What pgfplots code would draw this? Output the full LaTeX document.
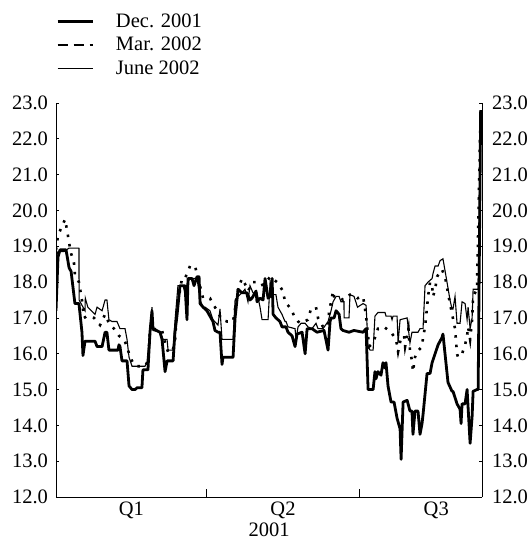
\documentclass[border=0pt]{standalone}
\usepackage{fontspec}
\setmainfont{Liberation Serif}
\usepackage{pgfplots}
\pgfplotsset{compat=1.18}
\begin{document}
\fontsize{20.5bp}{24bp}\selectfont
\begin{tikzpicture}
\useasboundingbox (0,0) rectangle (531bp,540bp);
\begin{axis}[
  at={(56bp,43bp)}, anchor=south west,
  scale only axis, width=426bp, height=394bp,
  xmin=0, xmax=254.3, ymin=12, ymax=23,
  axis x line*=bottom, axis y line*=left,
  axis line style={line width=0.8bp},
  tick align=inside,
  ytick={12,13,...,23},
  yticklabel style={xshift=-1bp, /pgf/number format/.cd, fixed, fixed zerofill, precision=1, assume math mode=true},
  xtick={45,135.5,227}, xticklabels={Q1,Q2,Q3},
  xticklabel style={yshift=2bp},
  xtick style={draw=none},
  minor xtick={31,59,120,151,212,243},
  minor tick length=4bp,
  major tick length=3bp,
  extra x ticks={90,181}, extra x tick labels={},
  extra x tick style={major tick length=8bp, xtick style={draw=black}},
  tick style={black, line width=0.8bp},
  xlabel={2001},
  xlabel style={yshift=3bp, inner sep=0pt},
  legend style={at={(axis description cs:0,1)}, anchor=north west, yshift=91bp,
    draw=none, fill=none, inner sep=0pt, row sep=4.5bp,
    nodes={inner sep=0pt, text height=15bp, text depth=4bp, anchor=west}},
  legend cell align=left,
  legend image code/.code={\draw[#1] (0bp,0bp) -- (35bp,0bp); \path (57bp,0bp);},
]
\addplot[black, line width=2.8bp, line join=round] coordinates {
(0,17.2)(1.2,18.7)(2.4,18.9)(4.8,18.9)(6,18.9)(7.8,18.4)(9,18.3)(11.3,17.4)(13.7,17.4)
(15.5,16.6)(16.1,15.95)(17.3,16.35)(23.3,16.35)(24.5,16.2)(27.5,16.2)(29.3,16.6)(30.4,16.6)
(31.6,16.1)(37,16.1)(37.6,16.25)(38.2,16.2)(39.4,15.8)(42.4,15.8)(43.6,15.1)(45.4,15.0)
(47.2,15.0)(48.4,15.05)(51.3,15.05)(51.9,15.55)(54.9,15.55)(56.1,16.6)(57.3,17.2)(57.9,16.7)
(62.1,16.6)(63.3,16.4)(65.1,15.5)(66.3,15.8)(69.9,15.8)(71,16.6)(72.2,17.05)(74,17.9)(77,17.9)
(78.2,16.95)(78.8,18.1)(81.2,18.1)(82.4,17.9)(84.2,18.15)(85.4,18.15)(86,17.4)(87.8,17.3)
(90.1,17.2)(91.9,17.05)(93.7,16.9)(94.9,16.65)(96.7,16.6)(97.9,16.6)(99.1,15.7)(99.7,15.9)
(105.7,15.9)(106.9,17.0)(108.7,17.8)(111,17.7)(114,17.7)(115.8,17.5)(117,17.55)(119.4,17.75)
(120,17.45)(121.8,17.55)(123.6,17.5)(124.8,18.1)(126.6,17.55)(127.8,17.6)(129,18.1)(129.6,17.1)
(131.3,17.0)(133.7,16.9)(134.9,16.75)(137.3,16.75)(138.5,16.6)(140.9,16.5)(142.7,16.2)
(143.9,16.55)(146.9,16.6)(148.7,16.0)(149.9,16.7)(152.8,16.7)(155.8,16.6)(160,16.65)
(162.4,16.1)(163.6,16.9)(164.2,17.0)(166,17.0)(167.2,17.2)(169,17.1)(170.1,16.7)(171.3,16.65)
(174.9,16.6)(177.9,16.65)(183.3,16.6)(185.1,16.7)(186.3,15.0)(189.3,15.0)(190.4,15.5)
(191,15.3)(192.2,15.5)(194,15.4)(195.2,15.75)(196.4,15.6)(197,15.75)(198.2,15.1)(200,14.65)
(201.8,14.65)(203.6,14.2)(205.4,13.9)(206,13.05)(207.2,14.65)(209.6,14.7)(211.3,14.4)
(212.5,14.4)(213.1,13.75)(214.3,14.4)(216.1,14.4)(217.3,13.75)(218.5,14.05)(219.1,14.3)
(221.5,15.45)(223.3,15.45)(224.5,15.75)(226.3,16.0)(228.1,16.25)(230.4,16.45)(231,16.55)
(234,15.2)(236.4,14.95)(237,14.95)(239.4,14.6)(241.2,14.45)(241.8,14.05)(242.4,14.6)
(244.2,14.6)(245.4,15.0)(247.2,13.5)(248.4,14.25)(249,14.95)(251.3,15.0)(252,15.0)(253.5,22.8)
};
\addlegendentry{Dec. 2001}
\addplot[black, line width=2.6bp, dash pattern=on 2.5bp off 7bp,
  legend image code/.code={\draw[black, line width=2.6bp, dash pattern=on 10bp off 6bp] (0bp,0bp) -- (35bp,0bp); \path (57bp,0bp);}]
 coordinates {
(0,18.9)(1.2,19.3)(3,19.5)(5.4,19.75)(6.6,19.45)(7.8,19.1)(9,18.8)(10.7,18.55)(11.3,18.2)
(13.7,18.0)(15.5,17.5)(16.7,17.0)(18.5,17.05)(22.7,17.0)(26.3,16.8)(29.3,17.1)(31.6,16.85)
(34.6,16.7)(37.6,16.5)(40.6,16.4)(42.4,16.2)(44.2,15.9)(46.6,15.7)(48.4,15.65)(53.1,15.65)
(54.9,15.8)(56.1,16.6)(57.9,16.7)(63.3,16.65)(65.1,16.3)(66.9,16.05)(69.3,16.05)(71,16.3)
(72.2,17.25)(75.2,18.1)(77,18.1)(80,18.45)(83,18.45)(84.8,18.1)(87.8,17.55)(91.9,17.55)
(96.7,17.15)(99.1,16.95)(102.1,16.9)(105.7,16.9)(108.7,17.8)(111,18.1)(112.8,17.95)
(114.6,17.75)(117.6,18.0)(119.4,18.0)(121.8,17.9)(124.8,17.95)(127.8,18.15)(131.9,18.0)
(135.5,17.75)(136.7,17.45)(140.3,17.25)(142.7,17.0)(144.5,16.9)(146.3,16.85)(150.4,16.95)
(152.2,17.25)(155.2,17.3)(156.4,17.0)(159.4,16.75)(162.4,16.75)(163,17.15)(164.2,17.45)
(165.4,17.75)(166,17.6)(169,17.6)(171.3,17.5)(173,17.55)(175.5,17.65)(177.3,17.65)(180,17.55)
(183.3,17.6)(185.1,17.05)(186.9,16.2)(189.3,16.3)(192.2,16.7)(194,16.7)(195.8,16.75)(200,16.6)
(203,16.4)(204.2,16.05)(206,16.45)(207.8,16.5)(208.4,16.2)(210.4,16.7)(211.3,16.1)(212.5,15.8)
(213.1,15.5)(214.3,15.9)(215.5,16.05)(218.5,16.2)(219.1,16.45)(220.3,16.75)(221.5,17.3)
(222.1,17.6)(223.3,18.0)(224.5,17.9)(225.1,17.6)(226.3,17.8)(227.5,18.15)(229.3,18.3)
(230.4,18.35)(232.2,18.15)(234,17.7)(235.2,17.4)(238.2,16.7)(239.4,16.0)(240,15.9)(242.4,16.0)
(244.2,16.25)(245.4,16.5)(246,16.75)(247.2,16.4)(248.4,16.95)(249,17.6)(251.3,17.8)(253.5,22.9)
};
\addlegendentry{Mar. 2002}
\addplot[black, line width=1.1bp] coordinates {
(0,18.7)(1.2,18.85)(4.8,18.85)(7.8,18.95)(13.7,18.95)(13.8,17.5)(17.3,17.2)(17.5,17.55)(19,17.3)
(23.3,17.1)(24.5,17.3)(27.5,17.2)(29.3,17.5)(30.4,17.5)(31.6,16.95)(33.4,16.9)(36.4,16.9)
(38.2,16.7)(41.2,16.7)(42.4,16.4)(43.6,15.9)(45.4,15.65)(50.1,15.65)(53.1,15.65)(54.3,15.75)
(56.1,16.7)(57.3,17.3)(57.9,16.65)(62.1,16.6)(63.9,16.4)(66.3,16.4)(66.9,16.1)(69.9,16.1)
(71,16.9)(72.8,17.9)(75.8,17.9)(77,17.7)(78.8,18.0)(80,18.1)(84.2,18.1)(86,17.5)(87.8,17.3)
(89,17.3)(91.9,17.2)(93.7,16.95)(96.7,16.8)(97.9,17.25)(99.1,16.4)(105.7,16.4)(106.9,17.5)
(108.7,17.6)(111,17.7)(112.8,17.8)(114.6,17.45)(115.8,17.9)(117.6,17.7)(120,17.7)(121.8,17.3)
(123,16.95)(126.6,16.95)(127.8,18.0)(128.4,17.9)(129.6,17.65)(131.3,17.65)(132.5,17.3)
(134.9,17.1)(136.7,16.9)(137.3,16.9)(138.5,16.75)(142.7,16.7)(143.3,16.4)(144.5,16.75)
(146.3,16.85)(148.7,16.85)(150.4,16.75)(152.8,16.7)(155.2,16.85)(156.4,16.7)(159.4,16.7)
(162.4,16.9)(164.2,17.2)(165.4,17.45)(167.2,17.6)(169,17.6)(170.1,17.45)(171.9,17.45)(172,17.0)
(174.9,17.0)(175.5,17.65)(177.9,17.6)(180,17.3)(183.3,17.4)(185.1,17.35)(186.3,16.2)(187.5,16.1)
(189.3,16.1)(190.4,17.05)(192.2,17.15)(196.4,17.15)(197,17.05)(200,17.05)(200.6,16.95)
(201.2,17.05)(203.6,17.05)(204.2,16.3)(205.4,16.95)(209.6,17.0)(211.3,16.3)(212.5,16.6)
(216.1,16.6)(217.3,16.7)(219.1,16.7)(220.3,17.9)(222.1,18.0)(224.5,18.1)(225.1,18.25)
(226.3,18.45)(228.1,18.45)(229.3,18.6)(231,18.65)(233.4,18.0)(235.2,17.5)(236.4,17.25)
(237,17.25)(238.2,17.6)(239.4,16.85)(241.2,16.85)(242.4,17.45)(244.2,17.4)(245.4,16.95)
(246,17.3)(247.2,16.7)(248.4,17.0)(249,17.8)(252,17.8)(253.5,22.7)
};
\addlegendentry{June 2002}
\end{axis}
\begin{axis}[
  at={(56bp,43bp)}, anchor=south west,
  scale only axis, width=426bp, height=394bp,
  xmin=0, xmax=254.3, ymin=12, ymax=23,
  axis x line=none, axis y line*=right,
  axis line style={line width=0.8bp},
  tick align=inside, major tick length=3bp,
  tick style={black, line width=0.8bp},
  ytick={12,13,...,23},
  yticklabel style={xshift=3bp, /pgf/number format/.cd, fixed, fixed zerofill, precision=1, assume math mode=true},
]
\addplot[draw=none] coordinates {(0,12)};
\end{axis}
\end{tikzpicture}
\end{document}
